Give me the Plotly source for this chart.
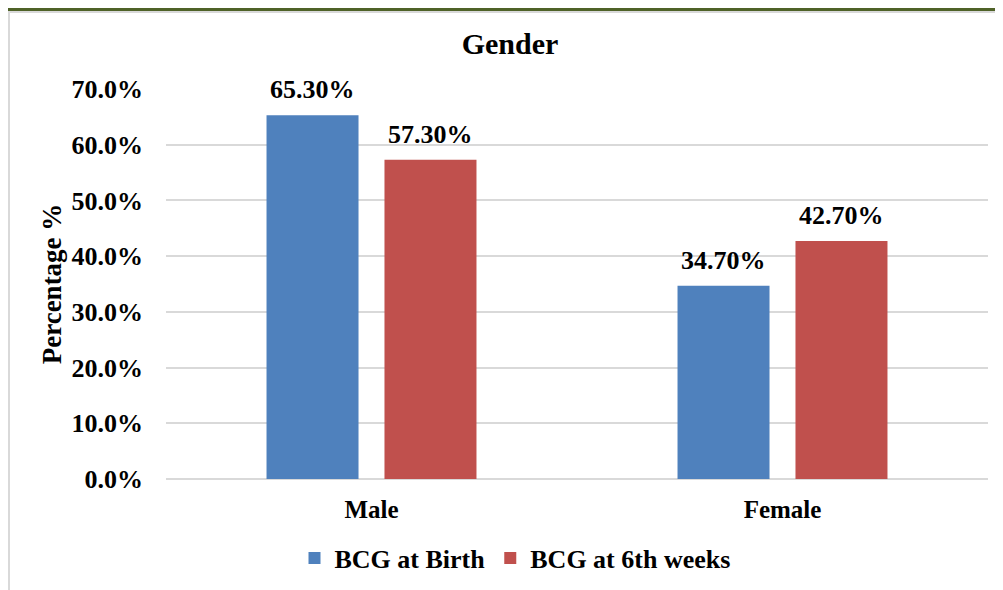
import plotly.graph_objects as go

categories = ["Male", "Female"]
series_names = ["BCG at Birth", "BCG at 6th weeks"]
birth_values = [0.653, 0.347]
week6_values = [0.573, 0.427]
label_birth = ["65.30%", "34.70%"]
label_week6 = ["57.30%", "42.70%"]
y_ticks = [0, 0.1, 0.2, 0.3, 0.4, 0.5, 0.6, 0.7]

# page has an 8px body margin; figure coordinates = page coordinates - 8
OFF = 8
W, H = 1003 - OFF, 590 - OFF
L, T = 166 - OFF, 89 - OFF
R, B = 15, 111
pw, ph = W - L - R, H - T - B

def px_x(p):
    return (p - OFF - L) / pw

def px_y(p):
    return (H - B - (p - OFF)) / ph

FONT = "Times New Roman, Liberation Serif, serif"
blue = "#4F81BD"
red = "#C0504D"

fig = go.Figure()
fig.add_trace(go.Bar(x=categories, y=birth_values, name=series_names[0],
                     marker=dict(color=blue, line=dict(width=0))))
fig.add_trace(go.Bar(x=categories, y=week6_values, name=series_names[1],
                     marker=dict(color=red, line=dict(width=0))))

for vals, labels, shift in [(birth_values, label_birth, -59), (week6_values, label_week6, 59)]:
    for c, v, t in zip(categories, vals, labels):
        fig.add_annotation(x=c, y=v, text=t, showarrow=False, xshift=shift,
                           yanchor="bottom", yshift=9,
                           font=dict(family=FONT, size=26, color="black", weight="bold"))

shapes = [
    # outer light frame
    dict(type="rect", xref="paper", yref="paper",
         x0=px_x(9), x1=px_x(997), y0=px_y(640), y1=px_y(12),
         line=dict(color="#D9D9D9", width=2), fillcolor="rgba(0,0,0,0)", layer="below"),
    # olive top rule
    dict(type="line", xref="paper", yref="paper",
         x0=px_x(-5), x1=px_x(1010), y0=px_y(9.5), y1=px_y(9.5),
         line=dict(color="#4F6228", width=3)),
]

fig.update_layout(
    width=W, height=H,
    margin=dict(l=L, r=R, t=T, b=B, autoexpand=False),
    paper_bgcolor="white", plot_bgcolor="white",
    barmode="group", bargap=0.426, bargroupgap=0.22,
    title=dict(text="Gender", x=(510 - OFF) / W, xref="container", xanchor="center",
               y=1 - (43 - OFF) / H, yref="container", yanchor="middle",
               font=dict(family=FONT, size=30, color="black", weight="bold")),
    font=dict(family=FONT, color="black"),
    showlegend=True,
    legend=dict(orientation="h", x=(515 - OFF) / W, xref="container", xanchor="center",
                y=1 - (558 - OFF) / H, yref="container", yanchor="middle",
                font=dict(family=FONT, size=26, color="black", weight="bold"),
                itemwidth=30, tracegroupgap=0, bgcolor="rgba(0,0,0,0)"),
    shapes=shapes,
    xaxis=dict(showgrid=False, showline=False, zeroline=False, ticks="",
               tickfont=dict(family=FONT, size=25, color="black", weight="bold"),
               ticklabelstandoff=13),
    yaxis=dict(range=[0, 0.7], tickvals=y_ticks, tickformat=".1%",
               showgrid=True, gridcolor="#D9D9D9", gridwidth=2,
               zeroline=True, zerolinecolor="#D9D9D9", zerolinewidth=2,
               showline=False, ticks="",
               tickfont=dict(family=FONT, size=26, color="black", weight="bold"),
               ticklabelstandoff=22,
               title=dict(text="Percentage %", standoff=2,
                          font=dict(family=FONT, size=27, color="black", weight="bold"))),
)

fig.write_html("out.html")
